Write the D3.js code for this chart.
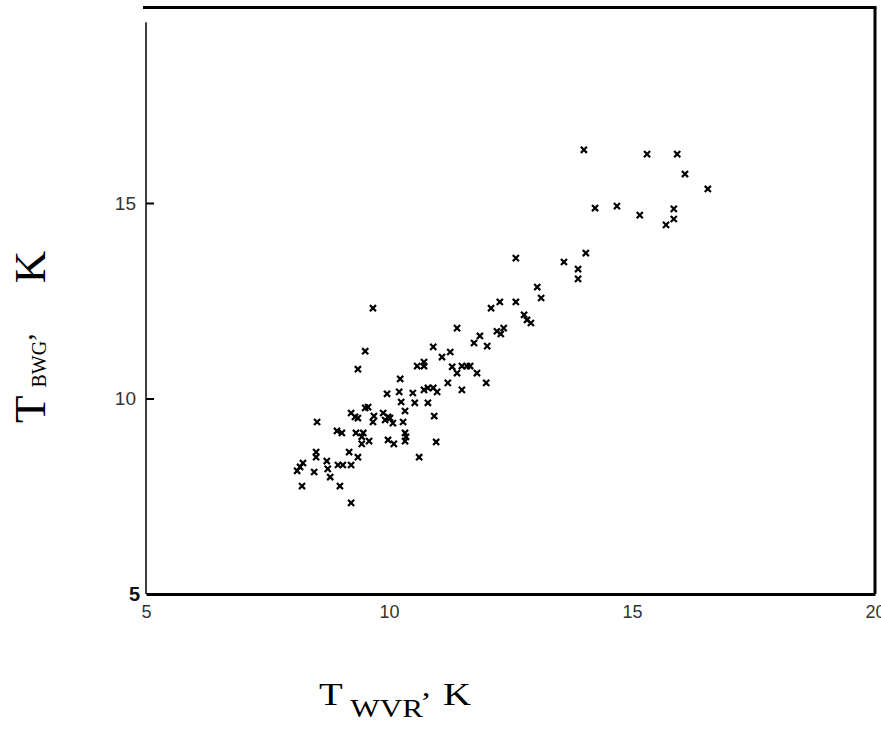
<!DOCTYPE html>
<html>
<head>
<meta charset="utf-8">
<script src="https://cdn.jsdelivr.net/npm/d3@7"></script>
<style>
body{margin:0;background:#fff;}
</style>
</head>
<body>
<div id="chart"></div>
<script>
// T_WVR (x) and T_BWG (y), kelvin
var twvr = [14.01,15.31,15.93,16.09,16.56,14.24,14.69,15.16,15.86,15.86,15.70,14.05,13.60,13.89,13.89,12.61,
    13.05,13.13,12.28,12.61,12.10,12.78,12.84,12.92,11.40,11.87,12.22,12.36,12.30,11.75,12.02,11.26,
    11.30,11.40,11.50,11.60,11.67,11.81,12.00,11.50,11.21,9.67,9.51,9.36,10.23,9.96,10.21,10.49,
    10.58,10.72,10.72,10.91,11.09,10.72,10.80,10.91,10.99,10.25,10.53,10.80,10.33,10.93,9.51,9.57,
    9.22,9.30,9.36,9.69,9.88,9.98,9.67,10.02,9.92,10.08,10.29,8.52,8.93,9.03,9.32,9.47,
    9.44,9.44,9.59,9.98,10.10,10.33,10.35,10.33,10.97,9.18,9.36,10.62,8.50,8.50,8.72,8.23,
    8.17,8.11,8.46,8.74,8.79,8.95,9.05,9.22,8.21,8.99,9.22];
var tbwg = [16.36,16.25,16.25,15.74,15.36,14.87,14.92,14.69,14.85,14.59,14.44,13.72,13.49,13.31,13.06,13.59,
    12.85,12.57,12.47,12.47,12.31,12.14,12.01,11.93,11.80,11.60,11.72,11.80,11.65,11.42,11.34,11.19,
    10.81,10.65,10.83,10.83,10.83,10.65,10.40,10.22,10.40,12.31,11.21,10.75,10.50,10.12,10.17,10.14,
    10.83,10.83,10.93,11.32,11.06,10.22,10.27,10.27,10.17,9.91,9.89,9.89,9.68,9.55,9.76,9.78,
    9.63,9.53,9.50,9.55,9.63,9.53,9.40,9.50,9.45,9.37,9.40,9.40,9.17,9.12,9.12,9.12,
    9.02,8.84,8.91,8.94,8.84,9.12,9.02,8.91,8.89,8.63,8.50,8.50,8.63,8.50,8.40,8.35,
    8.25,8.15,8.12,8.20,7.99,8.30,8.30,8.30,7.76,7.76,7.33];
var xTicks = [5, 10, 15, 20];
var yTicks = [5, 10, 15];

var width = 881, height = 734;

var svg = d3.select("#chart").append("svg")
    .attr("width", width)
    .attr("height", height);

var x = d3.scaleLinear().domain([5, 20]).range([146, 875]);
var y = d3.scaleLinear().domain([5, 20]).range([594, 7.5]);

var tickFont = "'Liberation Sans Narrow','Liberation Sans',Arial,sans-serif";

// frame: heavy top and right edges
svg.append("line")
    .attr("x1", x(5) - 3).attr("x2", x(20) + 1.5)
    .attr("y1", y(20)).attr("y2", y(20))
    .attr("stroke", "#000").attr("stroke-width", 3);
svg.append("line")
    .attr("x1", x(20)).attr("x2", x(20))
    .attr("y1", y(20)).attr("y2", y(5))
    .attr("stroke", "#000").attr("stroke-width", 3);

// x axis (heavy baseline)
var xAxis = svg.append("g")
    .attr("transform", "translate(0," + y(5) + ")")
    .call(d3.axisBottom(x).tickValues(xTicks).tickSize(0).tickPadding(11).tickFormat(d3.format("d")));
xAxis.select(".domain").attr("stroke-width", 3).attr("stroke", "#000");
xAxis.selectAll("text")
    .attr("font-family", tickFont).attr("font-size", 18).attr("fill", "#333");

// y axis: thin line, inward ticks
var yAxis = svg.append("g")
    .attr("transform", "translate(" + x(5) + ",0)")
    .call(d3.axisLeft(y).tickValues(yTicks).tickSize(-8).tickPadding(10).tickFormat(d3.format("d")));
yAxis.select(".domain").remove();
yAxis.selectAll(".tick line").attr("stroke", "#000").attr("stroke-width", 2)
    .filter(function(d) { return d === 5; }).remove();
yAxis.selectAll("text")
    .attr("font-family", tickFont).attr("font-size", 19).attr("fill", "#333");
yAxis.selectAll(".tick").filter(function(d) { return d === 5; }).select("text")
    .attr("font-family", "'Liberation Sans',Arial,sans-serif")
    .attr("font-weight", "bold").attr("font-size", 20).attr("fill", "#111")
    .attr("x", -6);

svg.append("line")
    .attr("x1", x(5)).attr("x2", x(5))
    .attr("y1", y(19.62)).attr("y2", y(5))
    .attr("stroke", "#000").attr("stroke-width", 1.5);

// points
var pts = twvr.map(function(v, i) { return {x: v, y: tbwg[i]}; });
var sym = d3.symbol().type(d3.symbolX).size(26);
svg.append("g").selectAll("path")
    .data(pts)
    .enter().append("path")
    .attr("transform", function(d) { return "translate(" + x(d.x) + "," + y(d.y) + ")"; })
    .attr("d", sym)
    .attr("fill", "none")
    .attr("stroke", "#000")
    .attr("stroke-width", 2.2);

// axis titles
var serif = "'Liberation Serif','Times New Roman',serif";

var xt = svg.append("text")
    .attr("transform", "translate(319,705) scale(1.25,1)")
    .attr("font-family", serif).attr("fill", "#000");
xt.append("tspan").attr("font-size", 31).text("T");
xt.append("tspan").attr("font-size", 25).attr("dx", 6).attr("dy", 12).text("WVR");
xt.append("tspan").attr("font-size", 28).attr("dx", -1).attr("dy", -21).text(",");
xt.append("tspan").attr("font-size", 31).attr("dx", 10).attr("dy", 9).text("K");

var yt = svg.append("text")
    .attr("transform", "translate(45,423) rotate(-90)")
    .attr("font-family", serif).attr("fill", "#000");
yt.append("tspan").attr("font-size", 45).text("T");
yt.append("tspan").attr("font-size", 20).attr("dx", 8).attr("dy", 1).text("BWG");
yt.append("tspan").attr("font-size", 30).attr("dy", -14).text(",");
yt.append("tspan").attr("font-size", 45).attr("dx", 50).attr("dy", 13).text("K");
</script>
</body>
</html>
